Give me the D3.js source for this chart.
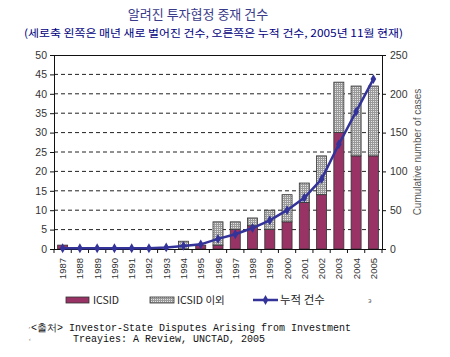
<!DOCTYPE html>
<html><head><meta charset="utf-8">
<script src="https://cdn.jsdelivr.net/npm/d3@7/dist/d3.min.js"></script>
<style>body{margin:0;background:#fff}svg{display:block}</style>
</head><body>
<svg id="c" width="450" height="357"></svg>
<script>
const years = ["1987","1988","1989","1990","1991","1992","1993","1994","1995","1996","1997","1998","1999","2000","2001","2002","2003","2004","2005"];
const icsid = [1,0,0,0,0,0,0,0,1,1,5,6,5,7,12,14,30,24,24];
const nonIcsid = [0,0,0,0,0,0,0,2,0,6,2,2,5,7,5,10,13,18,18];
const cumulative = [1,1,1,1,1,1,2,4,6,13,19,27,37,50,66,90,135,177,219];
const leftTicks = [0,5,10,15,20,25,30,35,40,45,50];
const rightTicks = [0,50,100,150,200,250];

const svg = d3.select("#c");
const L = 54, R = 382, T = 55, B = 249;
const x = d3.scaleBand().domain(years).range([L, R]).paddingInner(0.42).paddingOuter(0.21);
const y = d3.scaleLinear().domain([0, 50]).range([B, T]);
const y2 = d3.scaleLinear().domain([0, 250]).range([B, T]);

const defs = svg.append("defs");
const pat = defs.append("pattern").attr("id","hatch").attr("patternUnits","userSpaceOnUse").attr("width",2).attr("height",2);
pat.append("rect").attr("width",2).attr("height",2).attr("fill","#e4e4e4");
pat.append("rect").attr("width",2).attr("height",1).attr("fill","#9a9a9a");
pat.append("rect").attr("width",1).attr("height",2).attr("fill","#9a9a9a");

// Title
svg.append("text").attr("x",198).attr("y",19).attr("text-anchor","middle")
  .attr("font-family","Noto Sans CJK KR").attr("font-size",13).attr("fill","#3a3a8a")
  .text("알려진 투자협정 중재 건수");
svg.append("text").attr("x",24).attr("y",37).attr("textLength",379).attr("lengthAdjust","spacingAndGlyphs")
  .attr("font-family","Noto Sans CJK KR").attr("font-size",10.5).attr("fill","#000080")
  .text("(세로축 왼쪽은 매년 새로 벌어진 건수, 오른쪽은 누적 건수, 2005년 11월 현재)");

// gridlines
svg.append("g").selectAll("line").data(leftTicks.filter(d=>d>0 && d<50)).join("line")
  .attr("x1",L).attr("x2",R).attr("y1",d=>y(d)).attr("y2",d=>y(d))
  .attr("stroke","#222").attr("stroke-width",1).attr("stroke-dasharray","4,3");
svg.append("line").attr("x1",L).attr("x2",R).attr("y1",T+0.5).attr("y2",T+0.5).attr("stroke","#111");

// bars
const bw = x.bandwidth();
const g = svg.append("g");
g.selectAll(".ic").data(years).join("rect").attr("class","ic")
  .attr("x",d=>x(d)).attr("width",bw)
  .attr("y",(d,i)=>y(icsid[i])).attr("height",(d,i)=>y(0)-y(icsid[i]))
  .attr("fill","#993366").attr("stroke","#333").attr("stroke-width",0.8)
  .style("display",(d,i)=>icsid[i]>0?null:"none");
g.selectAll(".nic").data(years).join("rect").attr("class","nic")
  .attr("x",d=>x(d)).attr("width",bw)
  .attr("y",(d,i)=>y(icsid[i]+nonIcsid[i])).attr("height",(d,i)=>y(icsid[i])-y(icsid[i]+nonIcsid[i]))
  .attr("fill","url(#hatch)").attr("stroke","#333").attr("stroke-width",0.8)
  .style("display",(d,i)=>nonIcsid[i]>0?null:"none");

// axes
const fontAx = "Liberation Sans";
const yl = svg.append("g").attr("transform",`translate(${L},0)`)
  .call(d3.axisLeft(y).tickValues(leftTicks).tickSize(4).tickPadding(3));
const yr = svg.append("g").attr("transform",`translate(${R},0)`)
  .call(d3.axisRight(y2).tickValues(rightTicks).tickSize(4).tickPadding(4));
[yl,yr].forEach(a=>{
  a.select(".domain").attr("stroke","#111");
  a.selectAll("line").attr("stroke","#111");
  a.selectAll("text").attr("font-family",fontAx).attr("font-size",10.5).attr("fill","#333");
});
// x axis
svg.append("line").attr("x1",L-4).attr("x2",R+4).attr("y1",B+0.5).attr("y2",B+0.5).attr("stroke","#111");
svg.append("g").selectAll("line").data(d3.range(years.length+1)).join("line")
  .attr("x1",i=>L+i*(R-L)/years.length).attr("x2",i=>L+i*(R-L)/years.length)
  .attr("y1",B).attr("y2",B+4).attr("stroke","#111");
svg.append("g").selectAll("text").data(years).join("text")
  .attr("transform",d=>`translate(${x(d)+bw/2+3.5},258) rotate(-90)`)
  .attr("text-anchor","end").attr("font-family",fontAx).attr("font-size",9.5).attr("fill","#333")
  .text(d=>d);

// right axis title
svg.append("text").attr("transform","translate(421,152) rotate(-90)").attr("text-anchor","middle")
  .attr("font-family",fontAx).attr("font-size",10).attr("fill","#555").text("Cumulative number of cases");

// line
const line = d3.line().x((d,i)=>x(years[i])+bw/2).y(d=>y2(d));
svg.append("path").datum(cumulative).attr("d",line).attr("fill","none")
  .attr("stroke","#333399").attr("stroke-width",2.5);
const diamond = d3.symbol().type(d3.symbolDiamond).size(28);
svg.append("g").selectAll("path").data(cumulative).join("path")
  .attr("transform",(d,i)=>`translate(${x(years[i])+bw/2},${y2(d)})`).attr("d",diamond).attr("fill","#333399");

// legend
const lg = svg.append("g");
lg.append("rect").attr("x",66).attr("y",297).attr("width",23).attr("height",6).attr("fill","#993366").attr("stroke","#333").attr("stroke-width",0.8);
lg.append("text").attr("x",93).attr("y",304).attr("font-family","Noto Sans CJK KR").attr("font-size",10.5).attr("fill","#222").text("ICSID");
lg.append("rect").attr("x",150).attr("y",297).attr("width",24).attr("height",6).attr("fill","url(#hatch)").attr("stroke","#333").attr("stroke-width",0.8);
lg.append("text").attr("x",177).attr("y",304).attr("font-family","Noto Sans CJK KR").attr("font-size",10.5).attr("fill","#222").text("ICSID 이외");
lg.append("line").attr("x1",253).attr("x2",278).attr("y1",300).attr("y2",300).attr("stroke","#333399").attr("stroke-width",2.5);
lg.append("path").attr("transform","translate(265.5,300)").attr("d",diamond).attr("fill","#333399");
lg.append("text").attr("x",280).attr("y",304).attr("font-family","Noto Sans CJK KR").attr("font-size",11.5).attr("fill","#222").text("누적 건수");
lg.append("text").attr("x",368).attr("y",303).attr("font-family",fontAx).attr("font-size",8).attr("fill","#666").text("϶");

// source
const src = svg.append("g").attr("font-family","Liberation Mono").attr("font-size",10).attr("fill","#111");
src.append("text").attr("x",31).attr("y",331).text("<출처> Investor-State Disputes Arising from Investment");
src.append("text").attr("x",73).attr("y",342).text("Treayies: A Review, UNCTAD, 2005");
src.append("text").attr("x",28).attr("y",328).attr("font-size",6).attr("fill","#888").text(",");
src.append("text").attr("x",28).attr("y",341).attr("font-size",6).attr("fill","#888").text("‹");
</script>
</body></html>
